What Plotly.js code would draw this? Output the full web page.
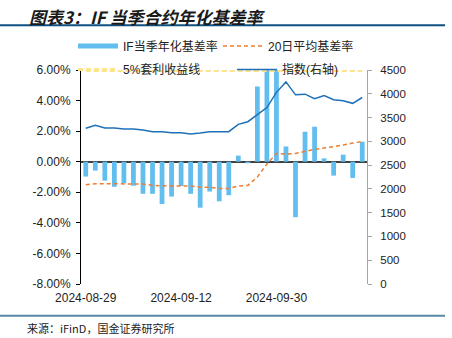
<!DOCTYPE html>
<html>
<head>
<meta charset="utf-8">
<script src="https://cdn.plot.ly/plotly-3.0.1.min.js"></script>
<style>
html,body{margin:0;padding:0;background:#fff;}
#chart{width:452px;height:338px;}
</style>
</head>
<body>
<div id="chart"></div>
<script>
// ---- data ----
var dates = ["2024-08-29","2024-08-30","2024-09-02","2024-09-03","2024-09-04","2024-09-05","2024-09-06",
  "2024-09-09","2024-09-10","2024-09-11","2024-09-12","2024-09-13","2024-09-18","2024-09-19","2024-09-20",
  "2024-09-23","2024-09-24","2024-09-25","2024-09-26","2024-09-27","2024-09-30","2024-10-08","2024-10-09",
  "2024-10-10","2024-10-11","2024-10-14","2024-10-15","2024-10-16","2024-10-17","2024-10-18"];
var basisRate = [-0.97,-0.58,-1.24,-1.64,-1.42,-1.57,-2.10,-2.10,-2.77,-2.28,-1.59,-2.10,-3.01,-1.95,-2.59,
  -2.19,0.40,-0.10,4.92,6.00,6.00,1.00,-3.63,1.96,2.29,0.22,-0.91,0.46,-1.06,1.31];
var avg20 = [-1.50,-1.44,-1.44,-1.44,-1.44,-1.44,-1.46,-1.55,-1.59,-1.59,-1.59,-1.59,-1.66,-1.68,-1.75,
  -1.75,-1.59,-1.55,-1.00,-0.15,0.54,0.50,0.54,0.70,0.81,0.89,0.98,1.09,1.22,1.33];
var arbLine = dates.map(function(){ return 5.97; });
var indexVal = [3274,3337,3280,3280,3259,3259,3238,3203,3203,3182,3182,3154,3175,3203,3203,
  3203,3357,3413,3560,3710,4030,4250,3978,3992,3897,3964,3876,3852,3799,3922];
var leftTicks = [-8,-6,-4,-2,0,2,4,6];
var leftTickText = ["-8.00%","-6.00%","-4.00%","-2.00%","0.00%","2.00%","4.00%","6.00%"];
var xTickVals = ["2024-08-29","2024-09-12","2024-09-30"];
var names = ["IF当季年化基差率","20日平均基差率","5%套利收益线","指数(右轴)"];

var FONT = "Liberation Sans, Arial, Noto Sans CJK SC, sans-serif";
var CJK = "Noto Sans CJK SC, sans-serif";

var traces = [
  {type:"bar", x:dates, y:basisRate, marker:{color:"#63BEF0"}, showlegend:false, hoverinfo:"skip"},
  {type:"scatter", mode:"lines", x:[null], y:[null], name:names[0], legend:"legend", legendwidth:90,
   line:{color:"#63BEF0", width:5}},
  {type:"scatter", mode:"lines", x:dates, y:avg20, name:names[1], legend:"legend",
   line:{color:"#ED7D31", width:1.5, dash:"4px,3px"}},
  {type:"scatter", mode:"lines", x:dates, y:arbLine, name:names[2], legend:"legend2", legendwidth:104,
   line:{color:"#FFE38C", width:3, dash:"5px,3px"}},
  {type:"scatter", mode:"lines", x:dates, y:indexVal, name:names[3], yaxis:"y2", legend:"legend2",
   line:{color:"#1F70B8", width:1.5}}
];

var layout = {
  width:452, height:338,
  margin:{l:81, r:85, t:70, b:54},
  paper_bgcolor:"#fff", plot_bgcolor:"#fff",
  font:{family:FONT, size:12, color:"#222"},
  bargap:0.5,
  showlegend:true,
  xaxis:{type:"category", tickvals:xTickVals, ticktext:xTickVals, showgrid:false, showline:false,
    zeroline:false, ticks:"", ticklabelstandoff:5, tickfont:{size:12, family:FONT, color:"#222"},
    fixedrange:true, range:[-0.5,29.5]},
  yaxis:{range:[-8,6], tickvals:leftTicks, ticktext:leftTickText, showgrid:false, zeroline:true,
    zerolinecolor:"#404040", zerolinewidth:2, showline:true, linecolor:"#000", linewidth:1,
    ticks:"outside", ticklen:4, tickcolor:"#000", ticklabelstandoff:3,
    tickfont:{size:12, family:FONT, color:"#222"}},
  yaxis2:{overlaying:"y", side:"right", range:[0,4500], dtick:500, showgrid:false, zeroline:false,
    showline:true, linecolor:"#A6A6A6", linewidth:1, ticks:"outside", ticklen:4, tickcolor:"#A6A6A6",
    ticklabelstandoff:6, tickfont:{size:11.5, family:FONT, color:"#222"}},
  legend:{orientation:"h", x:-0.028, xanchor:"left", y:1.112, yanchor:"middle",
    bgcolor:"rgba(0,0,0,0)", itemwidth:40, entrywidth:95, entrywidthmode:"pixels",
    font:{size:12, family:FONT, color:"#222"}},
  legend2:{orientation:"h", x:-0.028, xanchor:"left", y:1.002, yanchor:"middle",
    bgcolor:"rgba(0,0,0,0)", itemwidth:40, entrywidth:95, entrywidthmode:"pixels",
    font:{size:12, family:FONT, color:"#222"}},
  annotations:[
    {xref:"paper", yref:"paper", x:(27-81)/286, y:(284-17)/214, xanchor:"left", yanchor:"middle",
     text:"<b><i>图表3：IF 当季合约年化基差率</i></b>", showarrow:false,
     font:{size:17, family:CJK, color:"#1a1a1a"}},
    {xref:"paper", yref:"paper", x:(25-81)/286, y:(284-328)/214, xanchor:"left", yanchor:"middle",
     text:"来源：iFinD，国金证券研究所", showarrow:false,
     font:{size:11, family:CJK, color:"#222"}}
  ],
  shapes:[
    {type:"line", xref:"paper", yref:"paper", x0:-81/286, x1:(445-81)/286, y0:(284-25.3)/214, y1:(284-25.3)/214,
     line:{color:"#0E4F82", width:2}},
    {type:"line", xref:"paper", yref:"paper", x0:-81/286, x1:(445-81)/286, y0:(284-315.7)/214, y1:(284-315.7)/214,
     line:{color:"#5788A4", width:2}}
  ]
};

Plotly.newPlot("chart", traces, layout, {staticPlot:true, displayModeBar:false});
</script>
</body>
</html>
